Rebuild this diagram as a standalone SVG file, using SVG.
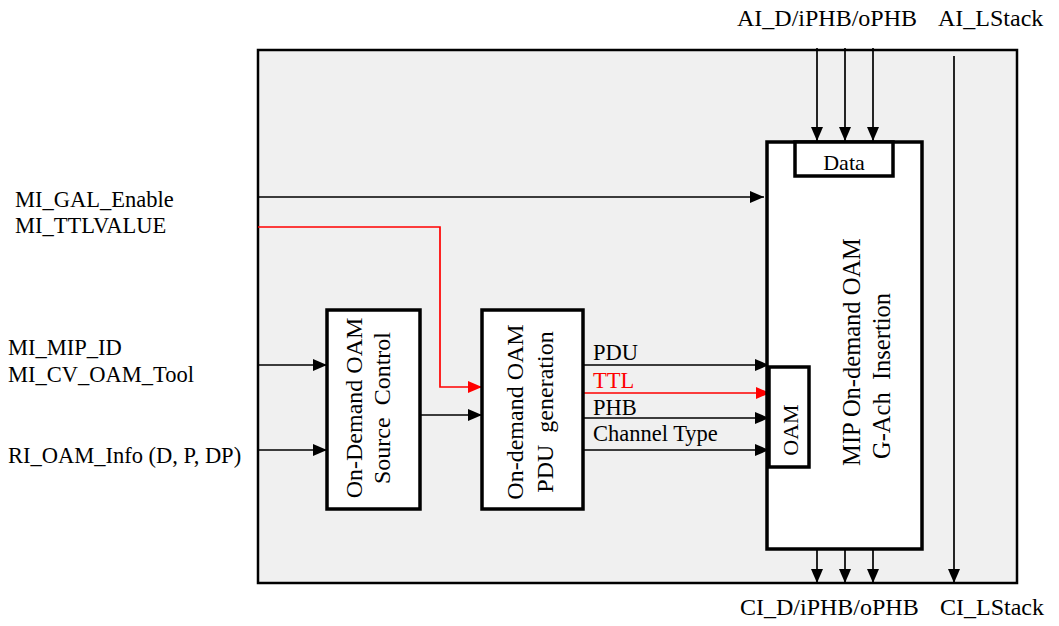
<svg xmlns="http://www.w3.org/2000/svg" width="1059" height="626" viewBox="0 0 1059 626">
<defs>
<marker id="ah" viewBox="0 0 14 12" refX="14" refY="6" markerWidth="14" markerHeight="12" markerUnits="userSpaceOnUse" orient="auto"><path d="M0,0 L14,6 L0,12 Z" fill="#000"/></marker>
<marker id="ahr" viewBox="0 0 14 12" refX="14" refY="6" markerWidth="14" markerHeight="12" markerUnits="userSpaceOnUse" orient="auto"><path d="M0,0 L14,6 L0,12 Z" fill="#f00"/></marker>
</defs>
<style>
text{font-family:"Liberation Serif","Times New Roman",serif;fill:#000}
.lbl{font-size:22.5px}
.io{font-size:24px}
.box{fill:#fff;stroke:#000;stroke-width:3.5}
.c{fill:none;stroke:#000;stroke-width:1.7;marker-end:url(#ah)}
.r{fill:none;stroke:#f00;stroke-width:1.7}
</style>
<rect width="1059" height="626" fill="#fff"/>
<rect id="frame" x="258" y="50" width="759" height="533" fill="#f0f0f0" stroke="#000" stroke-width="2.5"/>

<g id="connectors">
<path class="c" d="M258,197 H764"/>
<path class="r" d="M258,227 H440 V387 H470"/>
<path d="M468,387 L482,387" fill="none" stroke="#f00" stroke-width="1.7" marker-end="url(#ahr)"/>
<path class="c" d="M258,365 H327"/>
<path class="c" d="M258,450 H327"/>
<path class="c" d="M420,415 H482"/>
<path class="c" d="M583,365 H769"/>
<path fill="none" stroke="#f00" stroke-width="1.7" marker-end="url(#ahr)" d="M583,393 H770"/>
<path class="c" d="M583,418 H769"/>
<path class="c" d="M583,450 H769"/>
<path class="c" d="M817,48 V141"/>
<path class="c" d="M845,48 V141"/>
<path class="c" d="M873,48 V141"/>
<path class="c" d="M817,549 V583"/>
<path class="c" d="M845,549 V583"/>
<path class="c" d="M873,549 V583"/>
<path class="c" d="M954,56 V583"/>
</g>

<g id="source-control">
<rect class="box" x="327" y="310" width="93" height="199"/>
<g transform="translate(373.5,408) rotate(-90)">
<text x="0" y="-11.5" text-anchor="middle" font-size="24">On-Demand OAM</text>
<text x="0" y="16.5" text-anchor="middle" font-size="24" xml:space="preserve">Source  Control</text>
</g>
</g>

<g id="pdu-generation">
<rect class="box" x="482" y="310" width="101" height="199"/>
<g transform="translate(532,412) rotate(-90)">
<text x="0" y="-9" text-anchor="middle" font-size="24">On-demand OAM</text>
<text x="0" y="21" text-anchor="middle" font-size="24" xml:space="preserve">PDU  generation</text>
</g>
</g>

<g id="insertion">
<rect class="box" x="767" y="142" width="155" height="407"/>
<text transform="translate(860,352) rotate(-90)" x="0" y="0" text-anchor="middle" font-size="24.5">MIP On-demand OAM</text>
<text transform="translate(890,376) rotate(-90)" x="0" y="0" text-anchor="middle" font-size="24.5" xml:space="preserve">G-Ach  Insertion</text>
</g>

<g id="data">
<rect class="box" x="795" y="142" width="98" height="34"/>
<text x="844" y="170" text-anchor="middle" font-size="22">Data</text>
</g>

<g id="oam">
<rect class="box" x="769" y="367" width="40" height="100"/>
<text transform="translate(798,430) rotate(-90)" x="0" y="0" text-anchor="middle" font-size="22">OAM</text>
</g>

<g id="labels">
<text class="lbl" x="593" y="360">PDU</text>
<text class="lbl" x="593" y="388" style="fill:#f00">TTL</text>
<text class="lbl" x="593" y="415">PHB</text>
<text class="lbl" x="593" y="441">Channel Type</text>
<text class="lbl" x="15" y="207">MI_GAL_Enable</text>
<text class="lbl" x="15" y="233">MI_TTLVALUE</text>
<text class="lbl" x="8" y="355">MI_MIP_ID</text>
<text class="lbl" x="8" y="382">MI_CV_OAM_Tool</text>
<text class="lbl" x="8" y="463">RI_OAM_Info (D, P, DP)</text>
<text class="io" x="737" y="26">AI_D/iPHB/oPHB</text>
<text class="io" x="938" y="26">AI_LStack</text>
<text class="io" x="740" y="615">CI_D/iPHB/oPHB</text>
<text class="io" x="940" y="615">CI_LStack</text>
</g>
</svg>
